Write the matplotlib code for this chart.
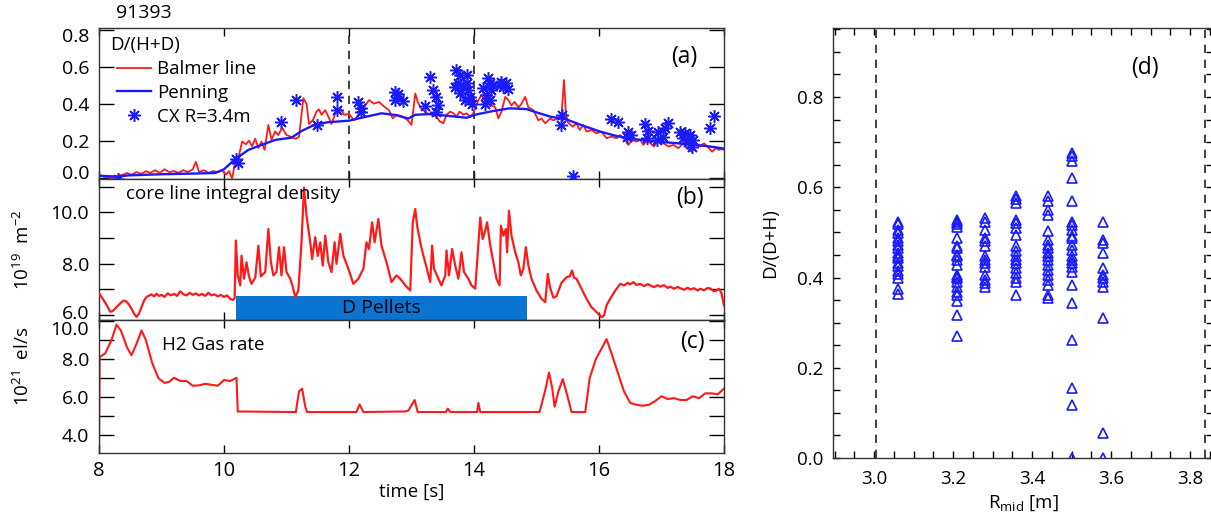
import matplotlib
matplotlib.use("Agg")
import matplotlib.pyplot as plt
from matplotlib.ticker import MultipleLocator, FixedLocator, FormatStrFormatter
from matplotlib.transforms import ScaledTranslation

plt.rcParams['font.family'] = ['Open Sans', 'DejaVu Sans']
plt.rcParams['mathtext.fontset'] = 'custom'
plt.rcParams['mathtext.rm'] = 'Open Sans'
plt.rcParams['mathtext.it'] = 'Open Sans:italic'

SHOT = "91393"

# ── (a) D/(H+D) ──────────────────────────────────────────────────────────────
balmer_t = [8.00, 8.08, 8.15, 8.22, 8.30, 8.38, 8.45, 8.52, 8.60, 8.68, 8.75, 8.82, 8.90, 8.97,
            9.05, 9.12, 9.20, 9.27, 9.35, 9.42, 9.50, 9.55, 9.60, 9.68, 9.75, 9.82, 9.90, 9.97,
            10.03, 10.08, 10.13, 10.18, 10.24, 10.29, 10.35, 10.40, 10.45, 10.50, 10.55, 10.60,
            10.65, 10.71, 10.76, 10.82, 10.87, 10.93, 11.00, 11.08, 11.14, 11.20, 11.27, 11.32,
            11.36, 11.42, 11.48, 11.52, 11.56, 11.62, 11.67, 11.72, 11.78, 11.86, 11.92, 12.00,
            12.08, 12.16, 12.26, 12.32, 12.40, 12.48, 12.56, 12.64, 12.70, 12.76, 12.86, 12.94,
            13.00, 13.06, 13.10, 13.15, 13.25, 13.33, 13.40, 13.45, 13.51, 13.56, 13.62, 13.67,
            13.72, 13.77, 13.83, 13.88, 13.94, 13.99, 14.07, 14.12, 14.18, 14.23, 14.29, 14.34,
            14.39, 14.44, 14.50, 14.55, 14.60, 14.65, 14.71, 14.76, 14.82, 14.87, 14.95, 15.03,
            15.08, 15.14, 15.22, 15.27, 15.35, 15.40, 15.44, 15.47, 15.50, 15.58, 15.64, 15.69,
            15.75, 15.80, 15.88, 15.96, 16.04, 16.12, 16.20, 16.28, 16.34, 16.42, 16.47, 16.53,
            16.60, 16.66, 16.71, 16.77, 16.82, 16.88, 16.95, 17.03, 17.11, 17.19, 17.27, 17.35,
            17.40, 17.48, 17.53, 17.62, 17.68, 17.76, 17.81, 17.87, 17.92, 17.97, 18.00]
balmer_v = [0.015, 0.005, 0.000, -0.005, 0.010, 0.015, 0.025, 0.015, 0.030, 0.020, 0.035, 0.025,
            0.040, 0.025, 0.045, 0.030, 0.035, 0.025, 0.040, 0.030, 0.045, 0.085, 0.030, 0.040,
            0.025, 0.035, 0.030, 0.040, 0.015, 0.035, -0.005, 0.090, 0.120, 0.195, 0.180, 0.200,
            0.170, 0.210, 0.160, 0.195, 0.150, 0.285, 0.205, 0.250, 0.230, 0.270, 0.230, 0.220,
            0.210, 0.220, 0.430, 0.400, 0.290, 0.310, 0.357, 0.370, 0.340, 0.365, 0.330, 0.290,
            0.345, 0.375, 0.340, 0.345, 0.310, 0.345, 0.390, 0.420, 0.400, 0.410, 0.385, 0.365,
            0.320, 0.340, 0.330, 0.310, 0.285, 0.456, 0.410, 0.375, 0.348, 0.340, 0.330, 0.305,
            0.294, 0.340, 0.357, 0.348, 0.330, 0.357, 0.340, 0.348, 0.330, 0.348, 0.420, 0.447,
            0.410, 0.440, 0.390, 0.380, 0.320, 0.357, 0.437, 0.420, 0.390, 0.410, 0.380, 0.400,
            0.437, 0.380, 0.365, 0.310, 0.320, 0.294, 0.320, 0.310, 0.320, 0.339, 0.528, 0.350,
            0.300, 0.275, 0.294, 0.258, 0.285, 0.249, 0.258, 0.240, 0.249, 0.213, 0.222, 0.213,
            0.230, 0.204, 0.177, 0.204, 0.195, 0.204, 0.177, 0.204, 0.186, 0.168, 0.204, 0.186,
            0.168, 0.177, 0.159, 0.186, 0.159, 0.140, 0.177, 0.168, 0.186, 0.159, 0.140, 0.159,
            0.150, 0.155, 0.150]

penning_t = [8.0, 8.3, 8.47, 9.0, 9.54, 9.86, 10.0, 10.18, 10.39, 10.6, 10.82, 11.08, 11.24,
             11.46, 11.67, 12.0, 12.2, 12.52, 12.74, 12.95, 13.06, 13.30, 13.88, 14.04, 14.30,
             14.57, 14.84, 15.0, 15.22, 15.48, 15.75, 16.02, 16.28, 16.6, 16.92, 17.24, 17.56,
             17.78, 18.0]
penning_v = [0.010, 0.005, 0.012, 0.018, 0.022, 0.025, 0.045, 0.100, 0.150, 0.177, 0.204, 0.216,
             0.252, 0.288, 0.300, 0.308, 0.324, 0.348, 0.339, 0.320, 0.340, 0.344, 0.324, 0.342,
             0.360, 0.375, 0.371, 0.353, 0.330, 0.315, 0.280, 0.249, 0.225, 0.207, 0.195, 0.186,
             0.177, 0.168, 0.157]

cx_t = [8.30, 10.20, 10.22, 10.92, 11.15, 11.48, 11.81, 11.81, 12.15, 12.19, 12.20, 12.74, 12.77,
        12.87, 12.74, 12.79, 13.21, 13.30, 13.35, 13.40, 13.43, 13.39, 13.72, 13.77, 13.88, 13.75,
        13.83, 13.91, 13.77, 13.93, 13.85, 13.96, 13.70, 13.88, 14.23, 14.26, 14.15, 14.28, 14.20,
        14.26, 14.18, 14.31, 14.44, 14.52, 14.47, 14.55, 14.42, 15.40, 15.39, 15.58, 16.19, 16.31,
        16.47, 16.52, 16.44, 16.73, 16.79, 16.76, 16.95, 17.06, 17.11, 17.03, 16.92, 17.30, 17.38,
        17.46, 17.51, 17.43, 17.48, 17.35, 17.77, 17.84]
cx_v = [-0.010, 0.100, 0.080, 0.300, 0.420, 0.285, 0.434, 0.366, 0.407, 0.353, 0.378, 0.465, 0.438,
        0.414, 0.420, 0.455, 0.387, 0.542, 0.474, 0.438, 0.393, 0.357, 0.582, 0.555, 0.555, 0.510,
        0.490, 0.474, 0.456, 0.438, 0.420, 0.400, 0.490, 0.510, 0.537, 0.510, 0.483, 0.474, 0.447,
        0.420, 0.400, 0.500, 0.519, 0.510, 0.490, 0.480, 0.500, 0.339, 0.285, 0.010, 0.317, 0.300,
        0.249, 0.230, 0.222, 0.288, 0.252, 0.213, 0.249, 0.267, 0.294, 0.222, 0.204, 0.249, 0.240,
        0.230, 0.204, 0.195, 0.168, 0.213, 0.270, 0.335]

# ── (b) core line integral density [1e19 m^-2] ──────────────────────────────
dens_t = [8.00, 8.04, 8.08, 8.13, 8.18, 8.22, 8.26, 8.32, 8.39, 8.44, 8.48, 8.52, 8.56, 8.60, 8.64,
          8.68, 8.72, 8.76, 8.80, 8.84, 8.88, 8.92, 8.96, 9.00, 9.05, 9.10, 9.15, 9.20, 9.25, 9.30,
          9.35, 9.40, 9.45, 9.50, 9.55, 9.60, 9.65, 9.70, 9.75, 9.80, 9.85, 9.90, 9.95, 10.00,
          10.05, 10.10, 10.14, 10.17, 10.19, 10.22, 10.26, 10.28, 10.32, 10.36, 10.40, 10.44,
          10.50, 10.55, 10.59, 10.66, 10.71, 10.75, 10.79, 10.84, 10.88, 10.92, 10.96, 11.00,
          11.06, 11.10, 11.14, 11.19, 11.24, 11.28, 11.32, 11.38, 11.41, 11.46, 11.50, 11.54,
          11.58, 11.62, 11.67, 11.72, 11.77, 11.80, 11.86, 11.91, 11.99, 12.07, 12.15, 12.23,
          12.28, 12.32, 12.37, 12.41, 12.47, 12.52, 12.60, 12.68, 12.76, 12.82, 12.90, 12.98,
          13.02, 13.06, 13.09, 13.14, 13.19, 13.24, 13.30, 13.33, 13.36, 13.43, 13.48, 13.54,
          13.56, 13.60, 13.65, 13.70, 13.75, 13.80, 13.84, 13.91, 13.96, 14.02, 14.06, 14.10,
          14.14, 14.18, 14.21, 14.26, 14.31, 14.36, 14.41, 14.43, 14.47, 14.51, 14.53, 14.56,
          14.60, 14.66, 14.71, 14.75, 14.79, 14.83, 14.87, 14.92, 15.00, 15.08, 15.14, 15.18,
          15.22, 15.27, 15.32, 15.40, 15.48, 15.53, 15.57, 15.60, 15.64, 15.72, 15.80, 15.88,
          15.96, 16.04, 16.08, 16.12, 16.18, 16.26, 16.34, 16.40, 16.46, 16.50, 16.55, 16.60,
          16.66, 16.72, 16.78, 16.82, 16.88, 16.94, 16.98, 17.04, 17.10, 17.14, 17.20, 17.26,
          17.30, 17.36, 17.42, 17.46, 17.52, 17.58, 17.62, 17.68, 17.74, 17.78, 17.84, 17.88,
          17.92, 17.96, 18.00]
dens_v = [6.85, 6.70, 6.55, 6.35, 6.12, 6.15, 6.25, 6.40, 6.56, 6.52, 6.40, 6.24, 6.05, 5.92, 6.05,
          6.30, 6.55, 6.70, 6.75, 6.80, 6.72, 6.82, 6.74, 6.78, 6.70, 6.84, 6.76, 6.82, 6.74, 6.92,
          6.80, 6.76, 6.86, 6.78, 6.84, 6.76, 6.82, 6.74, 6.86, 6.76, 6.80, 6.72, 6.78, 6.70,
          6.76, 6.62, 6.58, 6.65, 8.90, 7.54, 7.15, 8.31, 7.41, 8.05, 7.50, 7.21,
          7.45, 8.70, 7.50, 7.67, 9.35, 8.05, 7.54, 7.67, 8.64, 7.54, 8.64, 7.67,
          7.41, 7.10, 6.69, 6.95, 8.83, 10.97, 9.87, 8.83, 8.18, 9.03, 8.30, 8.83,
          7.92, 9.09, 8.05, 7.67, 8.83, 7.99, 9.16, 8.31, 7.80, 7.21, 7.41, 7.80,
          8.83, 8.57, 9.61, 8.83, 9.74, 8.70, 8.05, 7.28, 7.54, 7.41, 7.15, 6.95,
          9.60, 10.13, 9.48, 8.83, 8.31, 7.86, 7.28, 8.70, 7.80, 7.41, 7.15, 7.54,
          8.51, 7.54, 8.57, 7.92, 7.41, 8.44, 7.67, 7.41, 7.15, 7.02, 8.44, 9.80,
          8.96, 9.29, 9.61, 8.70, 8.05, 7.41, 7.15, 9.48, 9.09, 9.35, 8.44, 10.06,
          9.09, 8.44, 8.05, 7.54, 7.80, 8.64, 7.93, 7.41, 6.95, 6.63, 6.50, 7.60,
          7.05, 6.67, 6.73, 7.25, 7.47, 7.50, 7.73, 7.45, 7.41, 7.02, 6.63, 6.30,
          6.11, 5.91, 5.97, 6.37, 6.63, 6.95, 7.21, 7.15, 7.25, 7.19, 7.28, 7.17,
          7.21, 7.12, 7.20, 7.15, 7.08, 7.16, 7.10, 7.16, 7.05, 7.10, 7.02, 7.09,
          7.04, 6.98, 7.06, 6.99, 7.04, 6.95, 7.02, 6.96, 7.05, 7.03, 6.92, 6.95,
          7.02, 6.85, 6.37]

pellet_start, pellet_end, pellet_top = 10.20, 14.85, 6.74

# ── (c) H2 gas rate [1e21 el/s] ─────────────────────────────────────────────
gas_t = [8.00, 8.01, 8.10, 8.20, 8.28, 8.35, 8.45, 8.52, 8.60, 8.68, 8.75, 8.85, 8.95, 9.05,
         9.12, 9.20, 9.30, 9.40, 9.50, 9.60, 9.70, 9.80, 9.90, 10.00, 10.10, 10.20, 10.22,
         11.15, 11.20, 11.25, 11.30, 11.33, 12.12, 12.17, 12.23, 12.90, 12.95, 13.05, 13.10,
         13.55, 13.58, 13.62, 14.05, 14.07, 14.10, 15.05, 15.15, 15.20, 15.25, 15.29, 15.35,
         15.42, 15.50, 15.56, 15.78, 15.85, 15.95, 16.05, 16.12, 16.20, 16.30, 16.40, 16.50,
         16.60, 16.70, 16.80, 16.90, 17.00, 17.10, 17.20, 17.30, 17.40, 17.50, 17.60, 17.70,
         17.80, 17.90, 18.00]
gas_v = [3.40, 8.10, 8.30, 9.00, 9.80, 9.50, 8.60, 8.20, 8.80, 9.50, 9.00, 7.80, 7.00, 6.75,
         6.80, 7.02, 6.85, 6.85, 6.60, 6.62, 6.70, 6.65, 6.60, 6.90, 6.85, 7.02, 5.25,
         5.22, 6.30, 6.45, 5.50, 5.22, 5.22, 5.62, 5.22, 5.25, 5.30, 5.85, 5.22,
         5.22, 5.40, 5.22, 5.22, 5.70, 5.22, 5.22, 6.50, 7.30, 6.50, 5.50, 6.30,
         6.95, 6.00, 5.22, 5.22, 7.00, 8.00, 8.60, 9.05, 8.30, 7.30, 6.30, 5.70,
         5.60, 5.55, 5.60, 5.80, 6.05, 5.90, 5.95, 5.85, 5.85, 6.05, 5.95, 6.20,
         6.20, 6.15, 6.45]

# ── (d) D/(D+H) profile ─────────────────────────────────────────────────────
prof_r = [3.06] * 18 + [3.21] * 21 + [3.28] * 14 + [3.36] * 17 + [3.44] * 18 + [3.50] * 23 + [3.58] * 12
prof_v = [0.524, 0.519, 0.506, 0.499, 0.487, 0.480, 0.473, 0.465, 0.454, 0.447, 0.443, 0.432,
          0.425, 0.414, 0.407, 0.400, 0.374, 0.363,
          0.528, 0.524, 0.519, 0.513, 0.487, 0.469, 0.465, 0.450, 0.447, 0.439, 0.428, 0.406,
          0.402, 0.399, 0.391, 0.380, 0.369, 0.361, 0.347, 0.317, 0.270,
          0.532, 0.524, 0.506, 0.487, 0.480, 0.469, 0.447, 0.439, 0.432, 0.424, 0.406, 0.395,
          0.387, 0.380,
          0.580, 0.573, 0.565, 0.528, 0.521, 0.510, 0.495, 0.469, 0.458, 0.447, 0.439, 0.432,
          0.421, 0.410, 0.399, 0.391, 0.361,
          0.580, 0.569, 0.550, 0.539, 0.502, 0.484, 0.473, 0.465, 0.454, 0.447, 0.439, 0.428,
          0.417, 0.406, 0.395, 0.384, 0.361, 0.354,
          0.675, 0.669, 0.658, 0.621, 0.569, 0.524, 0.517, 0.506, 0.491, 0.487, 0.473, 0.461,
          0.447, 0.439, 0.432, 0.424, 0.413, 0.384, 0.343, 0.261, 0.156, 0.117, 0.000,
          0.524, 0.484, 0.476, 0.454, 0.421, 0.406, 0.399, 0.391, 0.380, 0.310, 0.056, 0.000]
r_limits = [3.005, 3.838]
t_marks = [12.0, 14.0]

RED = "#ff1a1a"
BLUE = "#1a1aff"
W, H = 1211, 523


def frame(left, top, right, bottom):
    return [left / W, 1 - bottom / H, (right - left) / W, (bottom - top) / H]


def nudge(ax, idx, dy_px):
    # shift an end-of-axis tick label vertically (pixels, + is up)
    lab = ax.yaxis.get_major_ticks()[idx].label1
    lab.set_transform(lab.get_transform() + ScaledTranslation(0, dy_px / 100, fig.dpi_scale_trans))


fig = plt.figure(figsize=(W / 100, H / 100), dpi=100)
ax_a = fig.add_axes(frame(99, 28, 724, 178.5))
ax_b = fig.add_axes(frame(99, 178.5, 724, 320))
ax_c = fig.add_axes(frame(99, 320, 724, 453))
ax_d = fig.add_axes(frame(833, 28, 1213, 458))

for ax in (ax_a, ax_b, ax_c):
    ax.set_xlim(8, 18)
    ax.xaxis.set_major_locator(MultipleLocator(2))
    ax.tick_params(axis="x", which="both", direction="in", top=True, length=6, width=1,
                   labelsize=14.5, pad=6)
    ax.tick_params(axis="y", which="both", direction="in", right=True, length=11, width=1,
                   labelsize=14, pad=7)
    for s in ax.spines.values():
        s.set_linewidth(1.0)
        s.set_color("#333333")
for ax in (ax_a, ax_b):
    ax.tick_params(axis="x", labelbottom=False)

# (a)
ax_a.plot(balmer_t, balmer_v, color=RED, lw=1.3, label="Balmer line", zorder=3)
ax_a.plot(penning_t, penning_v, color=BLUE, lw=1.7, label="Penning", zorder=4)
ax_a.plot(cx_t, cx_v, ls="none", marker=(8, 2, 0), ms=9, mew=1.1, color=BLUE,
          label="CX R=3.4m", zorder=5)
for t in t_marks:
    ax_a.axvline(t, color="#222222", ls=(0, (5, 4)), lw=1.2)
ax_a.set_ylim(-0.005, 0.81)
ax_a.set_yticks([0.0, 0.2, 0.4, 0.6, 0.8])
ax_a.set_yticklabels(["0.0", "0.2", "0.4", "0.6", "0.8"])
ax_a.text(0.018, 0.89, "D/(H+D)", transform=ax_a.transAxes, fontsize=13.5, va="center")
ax_a.text(0.937, 0.81, "(a)", transform=ax_a.transAxes, fontsize=16.5, ha="center",
          va="center")
ax_a.legend(loc="upper left", bbox_to_anchor=(0.029, 0.785), frameon=False, fontsize=13.5,
            handlelength=1.8, handletextpad=0.35, labelspacing=0.3, borderpad=0,
            borderaxespad=0, numpoints=1)
fig.text(116 / W, 1 - 13 / H, SHOT, fontsize=14, va="center")

# (b)
ax_b.plot(dens_t, dens_v, color=RED, lw=1.6, zorder=3)
ax_b.set_ylim(5.8, 11.32)
ax_b.yaxis.set_major_locator(FixedLocator([6, 7, 8, 9, 10, 11]))
ax_b.set_yticklabels(["6.0", "", "8.0", "", "10.0", ""])
ax_b.bar((pellet_start + pellet_end) / 2, pellet_top - 5.8, bottom=5.8,
         width=pellet_end - pellet_start, color="#0a74d2", zorder=2)
ax_b.text((pellet_start + pellet_end) / 2, (pellet_top + 5.8) / 2, "D Pellets",
          fontsize=14, ha="center", va="center", zorder=4)
ax_b.text(0.044, 0.888, "core line integral density", transform=ax_b.transAxes,
          fontsize=13.5, va="center")
ax_b.text(0.946, 0.862, "(b)", transform=ax_b.transAxes, fontsize=16.5, ha="center",
          va="center")

# (c)
ax_c.plot(gas_t, gas_v, color=RED, lw=1.5)
ax_c.set_ylim(3.07, 10.05)
ax_c.yaxis.set_major_locator(FixedLocator([4, 5, 6, 7, 8, 9, 10]))
ax_c.set_yticklabels(["4.0", "", "6.0", "", "8.0", "", "10.0"])
ax_c.text(0.101, 0.814, "H2 Gas rate", transform=ax_c.transAxes, fontsize=13.5, va="center")
ax_c.text(0.95, 0.835, "(c)", transform=ax_c.transAxes, fontsize=16.5, ha="center",
          va="center")
ax_c.set_xlabel("time [s]", fontsize=13.5, labelpad=1)

fig.text(23 / W, 1 - 250 / H, r"10$^{19}$  m$^{-2}$", rotation=90, fontsize=13.5,
         ha="center", va="center")
fig.text(23 / W, 1 - 366 / H, r"10$^{21}$  el/s", rotation=90, fontsize=13.5,
         ha="center", va="center")

# end labels sit inside the frame
nudge(ax_a, 0, 6)
nudge(ax_a, 4, -5)
nudge(ax_b, 0, 3)
nudge(ax_c, 6, -7)

# (d)
ax_d.plot(prof_r, prof_v, ls="none", marker="^", ms=6.5, mfc="none", mec=BLUE, mew=1.2)
for r in r_limits:
    ax_d.axvline(r, color="#222222", ls=(0, (5, 4)), lw=1.2)
ax_d.set_xlim(2.896, 3.858)
ax_d.set_ylim(0, 0.953)
ax_d.xaxis.set_major_locator(MultipleLocator(0.2))
ax_d.xaxis.set_minor_locator(MultipleLocator(0.05))
ax_d.yaxis.set_major_locator(MultipleLocator(0.2))
ax_d.yaxis.set_minor_locator(MultipleLocator(0.05))
ax_d.xaxis.set_major_formatter(FormatStrFormatter("%.1f"))
ax_d.yaxis.set_major_formatter(FormatStrFormatter("%.1f"))
ax_d.tick_params(which="both", direction="in", top=True, right=True, length=5, width=1,
                 labelsize=13.5)
ax_d.tick_params(axis="x", pad=9)
ax_d.tick_params(axis="y", pad=7)
for s in ax_d.spines.values():
    s.set_linewidth(1.0)
    s.set_color("#333333")
ax_d.set_ylabel("D/(D+H)", fontsize=13.5, labelpad=13)
ax_d.set_xlabel(r"R$_{\rm mid}$ [m]", fontsize=13.5, labelpad=4)
ax_d.text(0.82, 0.907, "(d)", transform=ax_d.transAxes, fontsize=16.5, ha="center",
          va="center")

fig.savefig("out.png", dpi=100)
